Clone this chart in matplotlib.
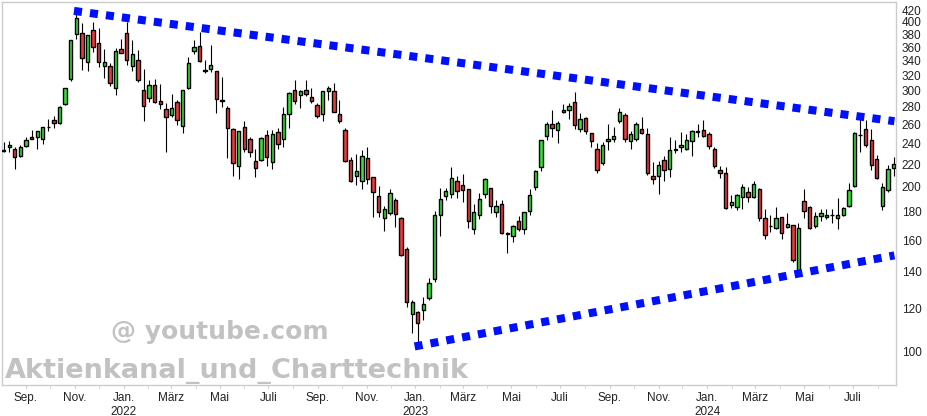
import numpy as np
import pandas as pd
import matplotlib
matplotlib.use("Agg")
import matplotlib.pyplot as plt
from matplotlib.ticker import FixedLocator, NullLocator

plt.rcParams['font.family'] = ['Liberation Sans', 'DejaVu Sans']

# weekly candles
opens = [233, 236.3, 234.4, 227.5, 237.6, 246.6, 246.6, 244.4, 257.2, 264.4,
         261.5, 283, 315.3, 380, 381.6, 337.9, 386.2, 365.8, 332.1, 332.1,
         302.8, 356.7, 381.6, 332.1, 340.7, 300.3, 290.4, 306.7, 287.1, 277.3,
         270.7, 285.5, 258.8, 303.6, 353.8, 361.3, 327, 328, 325, 287.8,
         278.5, 255, 218.3, 257, 244.4, 222.8, 223.8, 248.6, 221.9, 251.7,
         244.4, 271.5, 300.3, 294.1, 300.3, 291.6, 282, 271.5, 299.8, 299.1,
         271.5, 253.9, 223.8, 209.3, 204.9, 225.7, 208.4, 192.3, 175.4, 179.1,
         189.2, 175.4, 154, 117.2, 118.1, 119.2, 125.3, 135.7, 177.6, 192.3,
         194, 204.9, 201.5, 198.1, 167.5, 177.6, 194, 199, 179.8, 186.1,
         164.6, 162.6, 173.2, 167.5, 180.6, 199.8, 217.3, 247.6, 260.4, 253.9,
         276.2, 276.2, 285.5, 255, 267, 250.6, 235, 221, 242.5, 244.4,
         263.6, 270.3, 242.5, 244.4, 255, 249.6, 209.3, 209.3, 223.8, 215.5,
         233.4, 236.3, 235, 242.5, 252, 253.9, 249.6, 235, 214.6, 211.9,
         185.3, 183.7, 191.6, 195.6, 191.6, 198.1, 175.4, 169.6, 168.2, 176.2,
         168.9, 170.3, 140.4, 188.4, 183.7, 169.6, 176.9, 176.2, 177.5, 175.4,
         177.6, 184.5, 200.6, 249, 255, 243.4, 224.7, 184.5, 197.5, 216.4]
highs = [242, 242.5, 237, 238.4, 246.8, 254, 253, 257, 266, 269.6,
         281, 303, 370.5, 413.9, 398.4, 378.4, 399.6, 389.6, 356.7, 336.5,
         358.3, 372, 400.2, 370.5, 355.2, 328, 313.2, 314.9, 308.3, 284.3,
         295.3, 288, 300.3, 345, 371.3, 383.2, 341, 363.3, 325, 317,
         281.2, 256, 252.7, 264, 246.6, 235, 246.6, 253.9, 253.9, 256,
         279.7, 298.5, 313.2, 300.3, 313.2, 302.8, 284, 299.1, 306, 310,
         288, 256, 226.6, 229.7, 233.4, 236.3, 208.8, 200.6, 184.5, 198.1,
         190.8, 176.2, 155.2, 124.2, 118.6, 125.9, 136.3, 180.6, 199, 199,
         217.3, 209.3, 211, 198.5, 186.1, 194.8, 207.5, 199.5, 189.2, 189.2,
         165.4, 170.3, 176.9, 180, 198.1, 214.6, 243.6, 262.6, 276.2, 263.6,
         283, 284.3, 297.8, 272.6, 268, 251, 240.4, 241.4, 260.4, 257,
         278.5, 272.6, 252.7, 262.6, 268.1, 256, 221.9, 222.8, 227.6, 246.6,
         243.4, 251.7, 249.6, 253.9, 260.4, 264.9, 251.7, 236.3, 218.3, 217.3,
         193.2, 194.5, 202.3, 199.8, 204.9, 199, 182.2, 177.6, 183.7, 176.6,
         179.1, 170.6, 171.7, 198.1, 184.5, 179.8, 182.2, 182.2, 182.2, 190.8,
         183.7, 203.2, 251.7, 267, 264.9, 255, 228.5, 203.2, 219.2, 227.2]
lows = [232, 232, 215.5, 226.6, 237, 244.4, 235, 239.4, 253.4, 256.7,
        261, 282.5, 312.6, 372, 327.4, 325, 352.3, 331.6, 315.9, 306.2,
        293.7, 350.9, 334.5, 325, 311.4, 263.6, 286.2, 284.3, 277.6, 232,
        268.8, 259.6, 251.3, 301.6, 349.4, 338.6, 323.4, 324.7, 272.6, 280.4,
        225.7, 209.8, 206.6, 231.4, 227.2, 208.4, 222.8, 218.3, 215.5, 234.4,
        236.3, 256, 283, 278.5, 292.9, 284.3, 267, 264.3, 288, 274,
        261.5, 221.9, 204, 201.5, 198.1, 202.3, 176.6, 176.2, 166.1, 177.6,
        168.9, 149.5, 120.7, 108.2, 103.7, 114.2, 124.2, 134, 162.4, 188.9,
        191, 191.2, 187.6, 168.2, 164, 174.9, 190.8, 179.1, 176.2, 164,
        151.8, 158.6, 166.1, 164, 177.6, 197.2, 213.7, 243.4, 246.6, 240.4,
        272.6, 265.8, 255, 252.3, 249.6, 237, 211.9, 219.7, 233.4, 241.4,
        261.5, 241.4, 234.4, 242.5, 249.6, 210.1, 202.3, 194, 204.9, 208.4,
        230.5, 231.4, 233.4, 227.6, 246.6, 246.6, 234.4, 216.4, 207.5, 182.2,
        182.9, 181.6, 182.2, 188, 190.8, 173.2, 160.6, 165.4, 167.5, 160.6,
        168.2, 145.8, 138.6, 175.4, 167.5, 168.2, 173.2, 174.6, 171.7, 167.5,
        176.9, 183.7, 199.8, 232, 236.3, 214.6, 206.6, 181.5, 195.9, 209.8]
closes = [233.5, 238.4, 226.6, 237, 243.4, 244.4, 253, 257, 257.6, 261.5,
          280.4, 302.8, 370.5, 406.3, 343.6, 378.4, 359.7, 337.9, 337.9, 309.3,
          353.8, 350.9, 340.7, 349.4, 313.2, 280.8, 306.7, 285.5, 283.9, 268.8,
          278.5, 264.4, 300.3, 336.5, 360.3, 340.1, 326, 333.8, 289.1, 287.4,
          256, 221, 252.7, 234.4, 231.4, 216.4, 245.5, 226.6, 249.6, 239.4,
          271.5, 296.6, 286.7, 299.1, 295.3, 286.7, 269.2, 299.1, 302.8, 274.5,
          264.3, 222.8, 204.9, 213.7, 227.6, 206.6, 195.6, 179.8, 182.2, 194.8,
          178.4, 150.2, 123.2, 123.2, 112.8, 122.2, 133.5, 177.6, 190, 196.4,
          207.5, 196.4, 197.2, 173.2, 179.8, 190, 206.6, 184.5, 184.5, 164.7,
          164.4, 169.6, 167.5, 179.8, 193.2, 213.7, 243.4, 260.4, 256, 261.5,
          273.8, 280.8, 259.3, 265.8, 252.7, 242.5, 214.6, 238.4, 244.4, 247.6,
          273.8, 244.4, 249.6, 260.4, 250.6, 211.9, 206.6, 219.2, 214.6, 233.4,
          235, 238.4, 243.4, 252.7, 252.6, 247.6, 237.4, 218.3, 211.9, 182.9,
          187.6, 193.2, 199.8, 191.6, 202.3, 175.4, 163.3, 170, 175.4, 164.7,
          171.2, 147, 168.2, 180.6, 168.2, 176.9, 179.1, 177.6, 177.7, 177.6,
          182.9, 197.2, 250.6, 248.6, 238.4, 219.2, 207.5, 199.8, 215.5, 220.1]
weeks = pd.date_range('2021-08-04', periods=len(opens), freq='7D')

# trend lines (start / end)
upper_dates = pd.to_datetime(['2021-10-31', '2024-08-22'])
upper_values = [419, 263.6]
lower_dates = pd.to_datetime(['2022-12-31', '2024-08-22'])
lower_values = [102.3, 150]

month_ticks = pd.date_range('2021-09-01', '2024-07-01', freq='2MS')
month_labels = ['Sep.', 'Nov.', 'Jan.\n2022', 'März', 'Mai', 'Juli',
                'Sep.', 'Nov.', 'Jan.\n2023', 'März', 'Mai', 'Juli',
                'Sep.', 'Nov.', 'Jan.\n2024', 'März', 'Mai', 'Juli']
price_ticks = list(range(100, 421, 20))

o = np.array(opens)
h = np.array(highs)
l = np.array(lows)
c = np.array(closes)
up = c >= o

fig = plt.figure(figsize=(9.27, 4.16), dpi=100)
ax = fig.add_axes([2 / 927, 31 / 416, 894 / 927, 383 / 416])

ax.vlines(weeks, l, h, color='black', linewidth=0.8, zorder=2)
body_bottom = np.minimum(o, c)
body_height = np.maximum(np.abs(c - o), 0.3)
ax.bar(weeks[up], body_height[up], bottom=body_bottom[up], width=4.2,
       color='#36e036', edgecolor='black', linewidth=1.0, zorder=3)
ax.bar(weeks[~up], body_height[~up], bottom=body_bottom[~up], width=4.2,
       color='#ec3a3a', edgecolor='black', linewidth=1.0, zorder=3)

for d, v in [(upper_dates, upper_values), (lower_dates, lower_values)]:
    ax.plot(d, v, color='#0010ff', linewidth=5.8, linestyle=(0, (1, 1)),
            dash_capstyle='butt', solid_capstyle='butt', zorder=4)

ax.set_yscale('log')
ax.set_ylim(87, 435)
ax.set_xlim(pd.Timestamp('2021-08-02'), pd.Timestamp('2024-08-24'))

ax.yaxis.tick_right()
ax.yaxis.set_major_locator(FixedLocator(price_ticks))
ax.yaxis.set_minor_locator(NullLocator())
ax.set_yticklabels([str(p) for p in price_ticks])
ax.tick_params(axis='y', length=0, pad=4, labelsize=8.5, labelcolor='#222222')

ax.xaxis.set_major_locator(FixedLocator(matplotlib.dates.date2num(month_ticks)))
ax.set_xticklabels(month_labels)
ax.xaxis.set_minor_locator(FixedLocator(matplotlib.dates.date2num(
    pd.date_range('2021-09-01', '2024-08-01', freq='MS'))))
ax.tick_params(axis='x', which='both', length=2, color='#cccccc',
               pad=3, labelsize=8.5, labelcolor='#222222')

for s in ax.spines.values():
    s.set_color('#cccccc')
    s.set_linewidth(1.0)

wm = dict(fontweight='bold', color='#c2c2c2', zorder=0,
          family='DejaVu Sans', va='baseline')
fig.text(220 / 927, 1 - 339 / 416, '@ youtube.com', ha='center', fontsize=18, **wm)
fig.text(5 / 927, 1 - 378 / 416, 'Aktienkanal_und_Charttechnik', ha='left',
         fontsize=19.5, **wm)

fig.savefig('out.png', dpi=100)
